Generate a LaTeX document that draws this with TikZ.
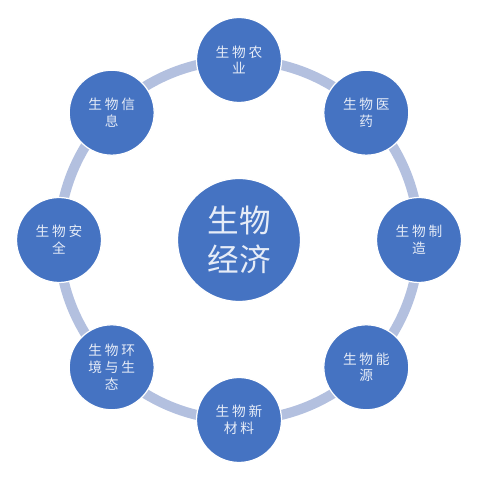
\documentclass[tikz,border=0pt]{standalone}
\usepackage{fontspec}
\newfontfamily\cjk{Noto Sans CJK SC}
\newfontfamily\cjksp[LetterSpace=20]{Noto Sans CJK SC}
\definecolor{nodeblue}{HTML}{4573C2}
\definecolor{ringblue}{HTML}{B3C0DF}
\definecolor{textwhite}{HTML}{E6ECF7}
\tikzset{
	field/.style={circle, fill=nodeblue, draw=white, line width=0.7pt,
		minimum size=1.7cm, inner sep=0pt, align=center, text=textwhite,
		font=\cjksp\fontsize{7.8}{9.6}\selectfont},
	core/.style={circle, fill=nodeblue, draw=white, line width=0.7pt,
		minimum size=2.46cm, inner sep=0pt, align=center, text=textwhite,
		font=\cjk\fontsize{18}{22.5}\selectfont},
	ring/.style={draw=ringblue, line width=0.2cm}
}
\begin{document}
\begin{tikzpicture}[x=0.02cm, y=0.02cm]
\useasboundingbox (0,0) rectangle (481,480);

%Center
\node [core] (eco) at (239,240) {生物\\经济};

%Ring behind the fields
\draw [ring] (eco.center) circle [radius=3.6cm];

%Fields on the ring
\node [field] (agri) at (239,420) {生物农\\业};
\node [field] (med) at (366.3,367.3) {生物医\\药};
\node [field] (manu) at (419,240) {生物制\\造};
\node [field] (energy) at (366.3,112.7) {生物能\\源};
\node [field] (mat) at (239,60) {生物新\\材料};
\node [field] (env) at (111.7,112.7) {生物环\\境与生\\态};
\node [field] (safe) at (59,240) {生物安\\全};
\node [field] (info) at (111.7,367.3) {生物信\\息};

\end{tikzpicture}
\end{document}
